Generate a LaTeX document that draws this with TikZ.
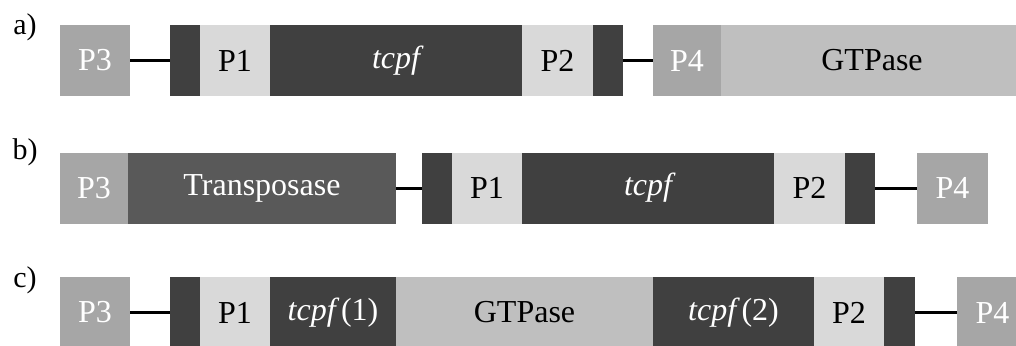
\documentclass[tikz,border=0pt]{standalone}
\usepackage{fontspec}
\setmainfont{Liberation Serif}
\definecolor{promo}{HTML}{A6A6A6}
\definecolor{flank}{HTML}{404040}
\definecolor{probe}{HTML}{D9D9D9}
\definecolor{gtp}{HTML}{BFBFBF}
\definecolor{trans}{HTML}{595959}
\tikzset{
  seg/.style={inner sep=0pt, outer sep=0pt, minimum height=71pt,
    font=\fontsize{32}{36}\selectfont},
  pbox/.style={seg, fill=promo, text=white},
  fbox/.style={seg, fill=flank},
  lbox/.style={seg, fill=probe, text=black},
  gbox/.style={seg, fill=gtp, text=black},
  tbox/.style={seg, fill=trans, text=white},
  cbox/.style={seg, fill=flank, text=white, font=\fontsize{32}{36}\selectfont},
  link/.style={line width=3pt, black},
  tag/.style={inner sep=0pt, font=\fontsize{30}{34}\selectfont}
}
\begin{document}
\begin{tikzpicture}[x=1pt, y=-1pt]
\useasboundingbox (0,0) rectangle (1016,345);
\begin{scope}
\clip (0,0) rectangle (1016,345);
% row a
\node[tag] (la) at (25,27.5) {a)};
\node[pbox, minimum width=70pt] (a3) at (95,60.5) {P3};
\node[fbox, minimum width=30pt] (af1) at (185,60.5) {};
\node[lbox, minimum width=70pt] (a1) at (235,60.5) {P1};
\node[cbox, minimum width=252pt] (at) at (396,60.5) {\itshape tcpf};
\node[lbox, minimum width=71pt] (a2) at (557.5,60.5) {P2};
\node[fbox, minimum width=30pt] (af2) at (608,60.5) {};
\node[pbox, minimum width=68pt] (a4) at (687,60.5) {P4};
\node[gbox, minimum width=302pt] (ag) at (872,60.5) {GTPase};
\draw[link] (a3.east) -- (af1.west);
\draw[link] (af2.east) -- (a4.west);
% row b
\node[tag] (lb) at (25,152.5) {b)};
\node[pbox, minimum width=68pt] (b3) at (94,188) {P3};
\node[tbox, minimum width=268pt] (bt) at (262,188) {Transposase};
\node[fbox, minimum width=30pt] (bf1) at (437,188) {};
\node[lbox, minimum width=70pt] (b1) at (487,188) {P1};
\node[cbox, minimum width=252pt] (bc) at (648,188) {\itshape tcpf};
\node[lbox, minimum width=71pt] (b2) at (809.5,188) {P2};
\node[fbox, minimum width=30pt] (bf2) at (860,188) {};
\node[pbox, minimum width=71pt] (b4) at (952.5,188) {P4};
\draw[link] (bt.east) -- (bf1.west);
\draw[link] (bf2.east) -- (b4.west);
% row c
\node[tag] (lc) at (25,280) {c)};
\node[pbox, minimum width=70pt] (c3) at (95,312.5) {P3};
\node[fbox, minimum width=30pt] (cf1) at (185,312.5) {};
\node[lbox, minimum width=70pt] (c1) at (235,312.5) {P1};
\node[cbox, minimum width=126pt] (cc1) at (333,312.5) {\itshape tcpf\upshape\,(1)};
\node[gbox, minimum width=257pt] (cg) at (524.5,312.5) {GTPase};
\node[cbox, minimum width=161pt] (cc2) at (733.5,312.5) {\itshape tcpf\upshape\,(2)};
\node[lbox, minimum width=70pt] (c2) at (849,312.5) {P2};
\node[fbox, minimum width=31pt] (cf2) at (899.5,312.5) {};
\node[pbox, minimum width=71pt] (c4) at (992.5,312.5) {P4};
\draw[link] (c3.east) -- (cf1.west);
\draw[link] (cf2.east) -- (c4.west);
\end{scope}
\end{tikzpicture}
\end{document}
